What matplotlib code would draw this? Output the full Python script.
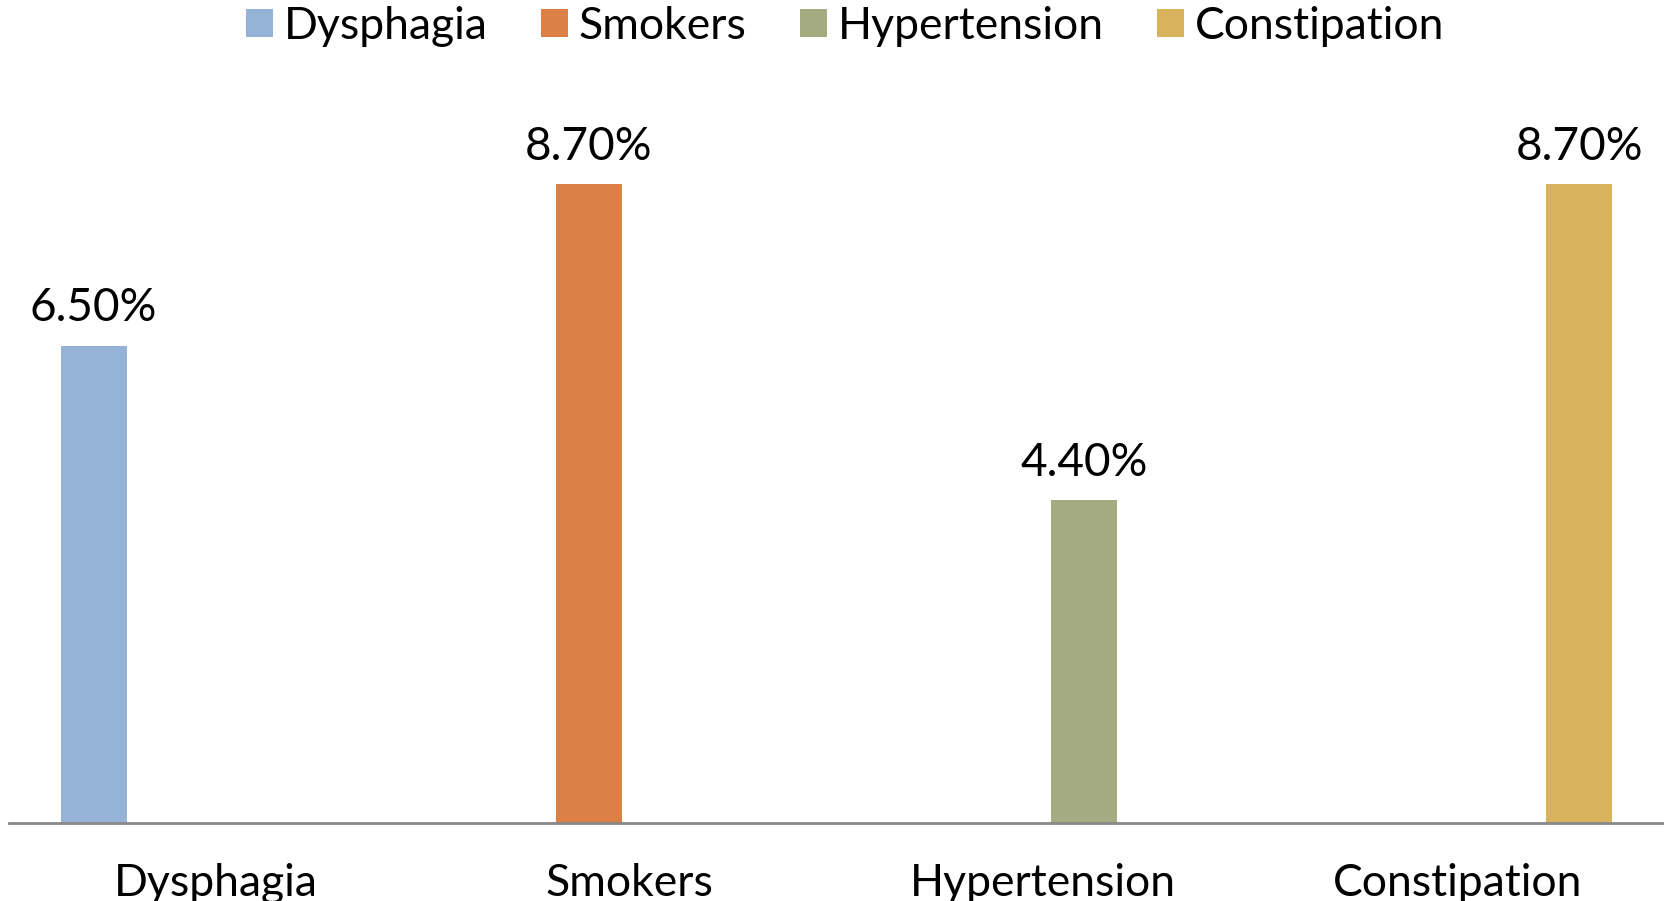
import matplotlib
matplotlib.use("Agg")
import matplotlib.pyplot as plt
import numpy as np

categories = ["Dysphagia", "Smokers", "Hypertension", "Constipation"]
series_names = ["Dysphagia", "Smokers", "Hypertension", "Constipation"]
values = [6.5, 8.7, 4.4, 8.7]
colors = ["#95B3D7", "#DD8047", "#A5AB81", "#D8B25C"]

plt.rcParams["font.family"] = ["Lato", "DejaVu Sans"]

fig = plt.figure(figsize=(16.65, 9.01), dpi=100)
ax = fig.add_axes([9 / 1665, 78 / 901, (1664 - 9) / 1665, (823 - 88.5) / 901])

slot = 0.197
width = 0.16
x = np.arange(len(categories))

handles = []
for i, (name, val, col) in enumerate(zip(series_names, values, colors)):
    pos = x[i] + (i - 1.5) * slot
    b = ax.bar(pos, val, width=width, color=col, label=name, zorder=2)
    handles.append(b)
    ax.text(pos, val + 0.22, f"{val:.2f}%", ha="center", va="bottom",
            fontsize=33, color="black")

ax.set_xlim(-0.5, 3.5)
ax.set_ylim(0, 10)
ax.set_xticks(x)
ax.set_xticklabels(categories, fontsize=32)
ax.tick_params(axis="x", length=0, pad=29)
ax.set_yticks([])
for s in ["left", "right", "top"]:
    ax.spines[s].set_visible(False)
ax.spines["bottom"].set_color("#888888")
ax.spines["bottom"].set_linewidth(2)
ax.patch.set_alpha(0)

fig.legend(handles=handles, labels=series_names, loc="center",
           bbox_to_anchor=(0.5075, 1 - 26.5 / 901), ncol=4, frameon=False,
           fontsize=32, handlelength=0.6, handleheight=0.6,
           handletextpad=0.25, columnspacing=1.2)

fig.savefig("out.png", dpi=100)
